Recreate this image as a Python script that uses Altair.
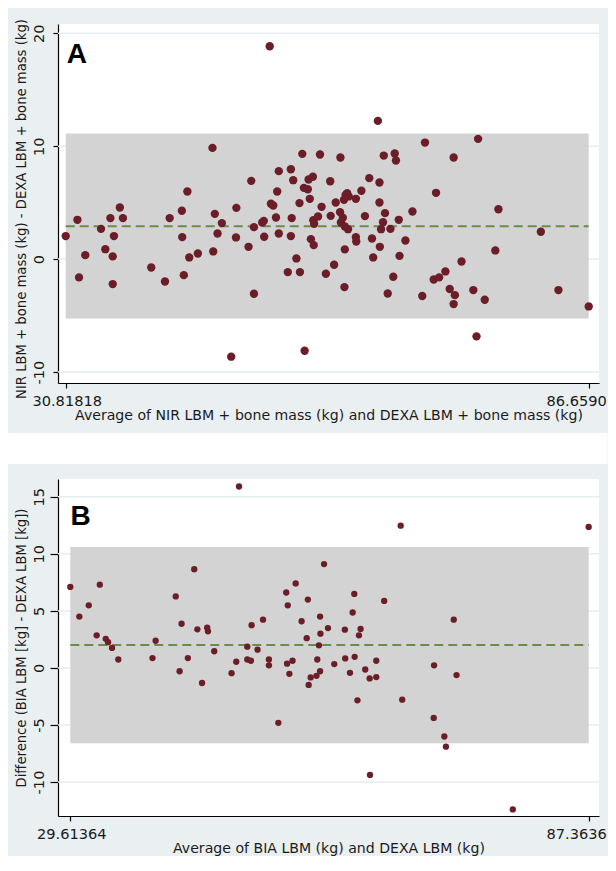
import altair as alt
import pandas as pd

# ---------------- Panel A data ----------------
A_AVG = [30.82, 32.07, 32.24, 32.91, 34.59, 35.05, 35.59, 35.97, 35.84, 35.84,
         36.60, 36.93, 39.95, 41.42, 41.92, 43.22, 43.26, 43.43, 43.81, 44.01,
         44.93, 46.49, 46.74, 46.57, 47.03, 47.49, 48.49, 49.04, 49.00, 50.34,
         50.63, 50.92, 50.92, 51.80, 51.97, 52.01, 52.60, 52.73, 52.98, 53.27,
         53.40, 53.57, 53.57, 54.53, 54.86, 54.95, 55.11, 54.86, 55.45, 55.78,
         55.83, 56.08, 56.25, 56.67, 56.75, 56.88, 57.21, 56.33, 57.00, 57.30,
         57.26, 57.34, 57.76, 57.97, 58.14, 58.60, 59.06, 59.11, 59.48, 59.65,
         60.15, 60.11, 60.20, 60.41, 60.53, 60.58, 60.62, 60.70, 60.87, 60.96,
         60.62, 61.04, 61.80, 61.80, 61.84, 62.39, 62.77, 63.23, 63.52, 63.65,
         64.15, 64.32, 64.32, 64.36, 64.70, 64.91, 64.78, 64.49, 65.20, 65.49,
         65.79, 65.95, 66.08, 66.38, 66.46, 67.09, 67.84, 68.89, 69.18, 70.11,
         70.36, 70.69, 71.36, 71.82, 72.24, 72.24, 72.37, 73.08, 74.34, 74.68,
         74.85, 75.56, 76.69, 77.02, 81.55, 83.43, 86.66]
A_DIFF = [2.04, 3.48, -1.62, 0.35, 2.68, 0.88, 3.63, 2.04, 0.24, -2.21,
          4.57, 3.63, -0.74, -1.98, 3.63, 4.28, 1.95, -1.42, 5.99, 0.15,
          0.50, 9.85, 4.01, 0.68, 2.27, 3.19, -8.64, 4.54, 1.92, 1.09,
          6.93, 2.83, -3.07, 3.24, 3.39, 1.98, 18.85, 4.90, 4.75, 3.69,
          5.99, 7.79, 2.27, -1.15, 7.96, 3.63, 6.99, 2.04, 0.06, 4.96,
          -1.15, 9.32, 6.31, 6.19, 7.05, 5.34, 7.29, -8.11, 1.77, 1.24,
          3.45, 3.13, 3.78, 9.26, 4.63, -1.30, 6.90, 3.83, -0.50, 5.01,
          9.00, 4.16, 3.24, 3.66, 5.25, -2.48, 0.86, 5.69, 5.84, 2.65,
          2.89, 5.55, 5.34, 1.95, 1.56, 6.05, 3.81, 7.17, 1.83, 0.15,
          12.24, 6.78, 5.01, 1.09, 3.27, 4.07, 9.17, 2.65, -3.04, 2.68,
          -1.56, 9.35, 8.73, 3.48, 0.29, 1.65, 4.22, -3.27, 10.32, -1.80,
          5.87, -1.62, -1.09, -2.65, 9.00, -3.98, -3.19, -0.21, -2.74, -6.84,
          10.65, -3.60, 0.77, 4.42, 2.42, -2.74, -4.19]
A_MEAN = 2.92
A_LOA = [-5.25, 11.12]
A_XTICKS = [30.81818, 86.6590]
A_XTICK_LABELS = ["30.81818", "86.6590"]
A_YTICKS = [-10, 0, 10, 20]
A_XTITLE = "Average of NIR LBM + bone mass (kg) and DEXA LBM + bone mass (kg)"
A_YTITLE = "NIR LBM + bone mass (kg) - DEXA LBM + bone mass (kg)"

# ---------------- Panel B data ----------------
B_AVG = [29.61, 30.62, 31.67, 32.55, 32.90, 33.56, 33.82, 34.26, 34.96, 38.77,
         39.12, 41.36, 41.79, 42.01, 42.71, 43.42, 43.77, 44.29, 44.86, 44.95,
         45.65, 47.58, 48.10, 48.41, 49.33, 49.33, 49.81, 49.73, 50.47, 51.08,
         51.74, 51.74, 52.79, 53.67, 53.76, 53.84, 54.02, 54.37, 54.72, 55.38,
         55.95, 56.08, 56.17, 56.39, 57.04, 57.13, 57.31, 57.44, 57.48, 57.44,
         57.88, 58.32, 59.02, 60.20, 60.24, 60.77, 61.07, 61.25, 61.29, 61.60,
         61.77, 61.95, 62.47, 62.96, 63.00, 63.70, 63.70, 64.58, 66.42, 66.59,
         70.14, 70.10, 71.28, 71.46, 72.33, 72.64, 78.91, 87.36]
B_DIFF = [7.10, 4.50, 5.49, 2.86, 7.30, 2.55, 2.26, 1.75, 0.74, 0.86,
          2.38, 6.27, -0.29, 3.87, 0.86, 8.65, 3.38, -1.32, 3.52, 3.21,
          1.46, -0.46, 0.54, 15.90, 1.86, 0.74, 3.75, 0.63, 1.60, 4.23,
          0.74, 0.23, -4.81, 6.61, 0.37, 5.49, -0.52, 0.63, 7.41, 4.09,
          2.61, 5.99, -1.49, -0.83, -0.69, 0.74, 1.98, 4.50, 3.00, -0.29,
          9.10, 3.49, 0.34, 3.35, 0.83, -0.43, 4.86, 6.49, 0.97, -2.84,
          2.86, 3.41, -0.14, -0.92, -9.38, 0.63, -0.80, 5.87, 12.47, -2.78,
          0.23, -4.38, -6.01, -6.90, 4.23, -0.63, -12.40, 12.36]
B_MEAN = 2.0
B_LOA = [-6.6, 10.6]
B_XTICKS = [29.61364, 87.3636]
B_XTICK_LABELS = ["29.61364", "87.3636"]
B_YTICKS = [-10, -5, 0, 5, 10, 15]
B_XTITLE = "Average of BIA LBM (kg) and DEXA LBM (kg)"
B_YTITLE = "Difference (BIA LBM [kg] - DEXA LBM [kg])"

# ---------------- style ----------------
FONT = "DejaVu Sans"
TXT = "#1a1a1a"
BG = "#eaf0f2"
GRID = "#e6edf0"
BAND = "#d3d3d3"
GREEN = "#6e8b4c"
MAROON = "#6b1e28"

TOP_CUT = 24  # hidden strip above panel A


def panel(avg, diff, mean, loa, xticks, xlabels, yticks, xtitle, ytitle, letter,
          W, H, xdom, ydom, box, psize, ytick, ylab_pad, title_dy, letter_xy, gap=None):
    df = pd.DataFrame({"avg": avg, "diff": diff})
    xs = alt.Scale(domain=xdom, nice=False, zero=False)
    ys = alt.Scale(domain=ydom, nice=False, zero=False)
    mid = (xticks[0] + xticks[1]) / 2
    xaxis = alt.Axis(
        values=xticks,
        labelExpr=f"datum.value < {mid} ? '{xlabels[0]}' : '{xlabels[1]}'",
        title=xtitle, grid=False, tickSize=5, labelPadding=5,
        labelFont=FONT, labelFontSize=14.6, labelColor=TXT,
        labelAlign="center", labelBaseline="top",
        labelOffset={"condition": {"test": f"datum.value > {mid}", "value": -12.5}, "value": 1},
        labelFlush=False, labelOverlap=False,
        titleFont=FONT, titleFontSize=14.1, titleFontWeight="normal", titleColor=TXT,
        titleX=W / 2, titleY=25, titleAlign="center", titleBaseline="top",
        domainColor="#000", tickColor="#000", domainWidth=1.2, tickWidth=1.2,
    )
    yaxis = alt.Axis(
        values=yticks, labelExpr="datum.value + ''",
        title=ytitle, grid=False, tickSize=ytick, labelPadding=ylab_pad,
        labelFont=FONT, labelFontSize=14.6, labelColor=TXT,
        labelAngle=270, labelAlign="center", labelBaseline="alphabetic",
        labelFlush=False, labelOverlap=False,
        titleFont=FONT, titleFontSize=13.2, titleFontWeight="normal", titleColor=TXT,
        titleAngle=270, titleX=-30, titleY=H / 2 + title_dy, titleAlign="center",
        titleBaseline="bottom",
        domainColor="#000", tickColor="#000", domainWidth=1.2, tickWidth=1.2,
    )
    one = pd.DataFrame({"k": [0]})
    layers = []
    if gap is not None:
        layers.append(alt.Chart(one).mark_rect(color="#ffffff").encode(
            x=alt.value(box[0]), x2=alt.value(W + box[1]),
            y=alt.value(box[2] - gap), y2=alt.value(box[2])))
    layers.append(alt.Chart(one).mark_rect(fill="transparent").encode(
        x=alt.value(box[0]), x2=alt.value(W + box[1]),
        y=alt.value(box[2]), y2=alt.value(H + box[3])))
    layers.append(alt.Chart(pd.DataFrame({"v": yticks})).mark_rule(
        color=GRID, strokeWidth=1.5).encode(
        y=alt.Y("v:Q", scale=ys, axis=yaxis), x=alt.value(0), x2=alt.value(W)))
    lim = pd.DataFrame({"x1": [xticks[0]], "x2": [xticks[1]],
                        "lo": [loa[0]], "hi": [loa[1]], "m": [mean]})
    layers.append(alt.Chart(lim).mark_rect(color=BAND).encode(
        x=alt.X("x1:Q", scale=xs, axis=xaxis), x2="x2:Q",
        y=alt.Y("lo:Q", scale=ys, axis=yaxis), y2="hi:Q"))
    layers.append(alt.Chart(lim).mark_rule(color=GREEN, strokeDash=[9, 5], strokeWidth=2).encode(
        x=alt.X("x1:Q", scale=xs, axis=xaxis), x2="x2:Q",
        y=alt.Y("m:Q", scale=ys, axis=yaxis)))
    layers.append(alt.Chart(df).mark_circle(size=psize, color=MAROON, opacity=1).encode(
        x=alt.X("avg:Q", scale=xs, axis=xaxis),
        y=alt.Y("diff:Q", scale=ys, axis=yaxis)))
    layers.append(alt.Chart(one).mark_text(
        text=letter, font="Liberation Sans", fontSize=28, fontWeight="bold",
        align="left", baseline="alphabetic", color="#000").encode(
        x=alt.value(letter_xy[0]), y=alt.value(letter_xy[1])))
    return alt.layer(*layers).properties(width=W, height=H)


pA = panel(A_AVG, A_DIFF, A_MEAN, A_LOA, A_XTICKS, A_XTICK_LABELS, A_YTICKS,
           A_XTITLE, A_YTITLE, "A", 541, 359, [29.996, 87.759], [-10.97, 20.82],
           (-50, 8.5, -(16 + TOP_CUT), 50), 70, 5, 9.7, 5, (8.7, 39.3))
pB = panel(B_AVG, B_DIFF, B_MEAN, B_LOA, B_XTICKS, B_XTICK_LABELS, B_YTICKS,
           B_XTITLE, B_YTITLE, "B", 541, 337, [28.243, 88.511], [-12.98, 16.56],
           (-50, 8.5, -15, 39), 40, 8, 6.7, 0, (12.5, 46), gap=31)

chart = (alt.vconcat(pA, pB, spacing=0)
         .properties(padding={"top": -TOP_CUT, "left": 0, "right": 0, "bottom": 0},
                     background=BG)
         .configure_view(stroke=None, fill="#ffffff"))

chart.save("out.html", embed_options={"renderer": "svg", "actions": False})
